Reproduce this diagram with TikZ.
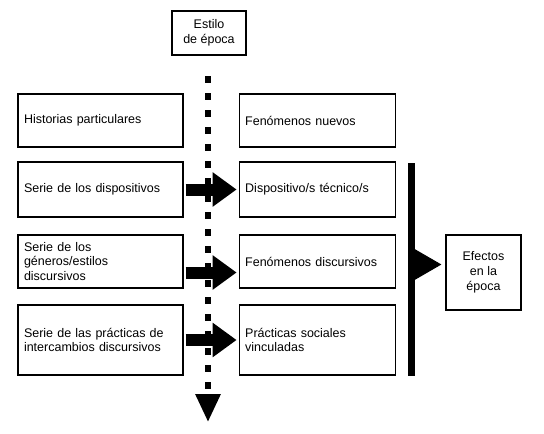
\documentclass[tikz,border=0pt]{standalone}
\usepackage{fontspec}
\setmainfont{Liberation Sans}
\usetikzlibrary{arrows.meta, positioning}
\tikzset{
  seriebox/.style={
    rectangle,
    draw=black,
    line width=1.2pt,
    align=left,
    text width=153pt,
    inner xsep=6pt,
    inner ysep=0pt,
    minimum height=53pt,
    font=\fontsize{12.5}{14.5}\selectfont
  },
  fenbox/.style={
    seriebox,
    text width=144pt
  },
  smallbox/.style={
    rectangle,
    draw=black,
    line width=1.2pt,
    align=center,
    inner sep=0pt,
    font=\fontsize{12.5}{15}\selectfont
  },
  bararrow/.style={line width=12pt, -{Triangle[width=33pt,length=24pt]}, shorten <=2pt, shorten >=2pt},
  axisarrow/.style={line width=6pt, dash pattern=on 7pt off 10pt, -{Triangle[width=24pt,length=28pt]}},
  efarrow/.style={line width=1pt, -{Triangle[width=31pt,length=27pt]}, shorten >=4pt}
}
\begin{document}
\begin{tikzpicture}[x=1pt, y=-1pt]
  \useasboundingbox (0,0) rectangle (544,434);

  \node[smallbox, minimum width=74pt, minimum height=44pt] (estilo) at (209,33) {Estilo\\de época};

  \node[seriebox] (hist) at (100.5,120.5) {Historias particulares};
  \node[seriebox, minimum height=55pt] (serdisp) at (100.5,189.5) {Serie de los dispositivos};
  \node[seriebox] (sergen) at (100.5,261.5) {Serie de los\\géneros/estilos\\discursivos};
  \node[seriebox, minimum height=70pt] (serprac) at (100.5,340) {Serie de las prácticas de\\intercambios discursivos};

  \node[fenbox, right=55pt of hist] (fennue) {Fenómenos nuevos};
  \node[fenbox, minimum height=55pt, right=55pt of serdisp] (dispo) {Dispositivo/s técnico/s};
  \node[fenbox, right=55pt of sergen] (fendis) {Fenómenos discursivos};
  \node[fenbox, minimum height=70pt, right=55pt of serprac] (pracsoc) {Prácticas sociales\\vinculadas};

  \node[fill=black, inner sep=0pt, minimum width=7pt, minimum height=213pt] (bar) at (411,269.5) {};
  \node[smallbox, minimum width=75pt, minimum height=75pt] (efectos) at (483.5,272.5) {Efectos\\en la\\época};

  \coordinate (axtop) at (208,76);
  \coordinate (axbot) at (208,422);
  \coordinate (eftip) at ([yshift=8pt]efectos.west);

  % series -> fenomenos
  \draw[bararrow] (serdisp) -- (dispo);
  \draw[bararrow] ([yshift=-11pt]sergen.east) -- ([yshift=-11pt]fendis.west);
  \draw[bararrow] (serprac) -- (pracsoc);

  \draw[axisarrow] (axtop) -- (axbot);
  \draw[efarrow] (bar.east |- eftip) -- (eftip);
\end{tikzpicture}
\end{document}
